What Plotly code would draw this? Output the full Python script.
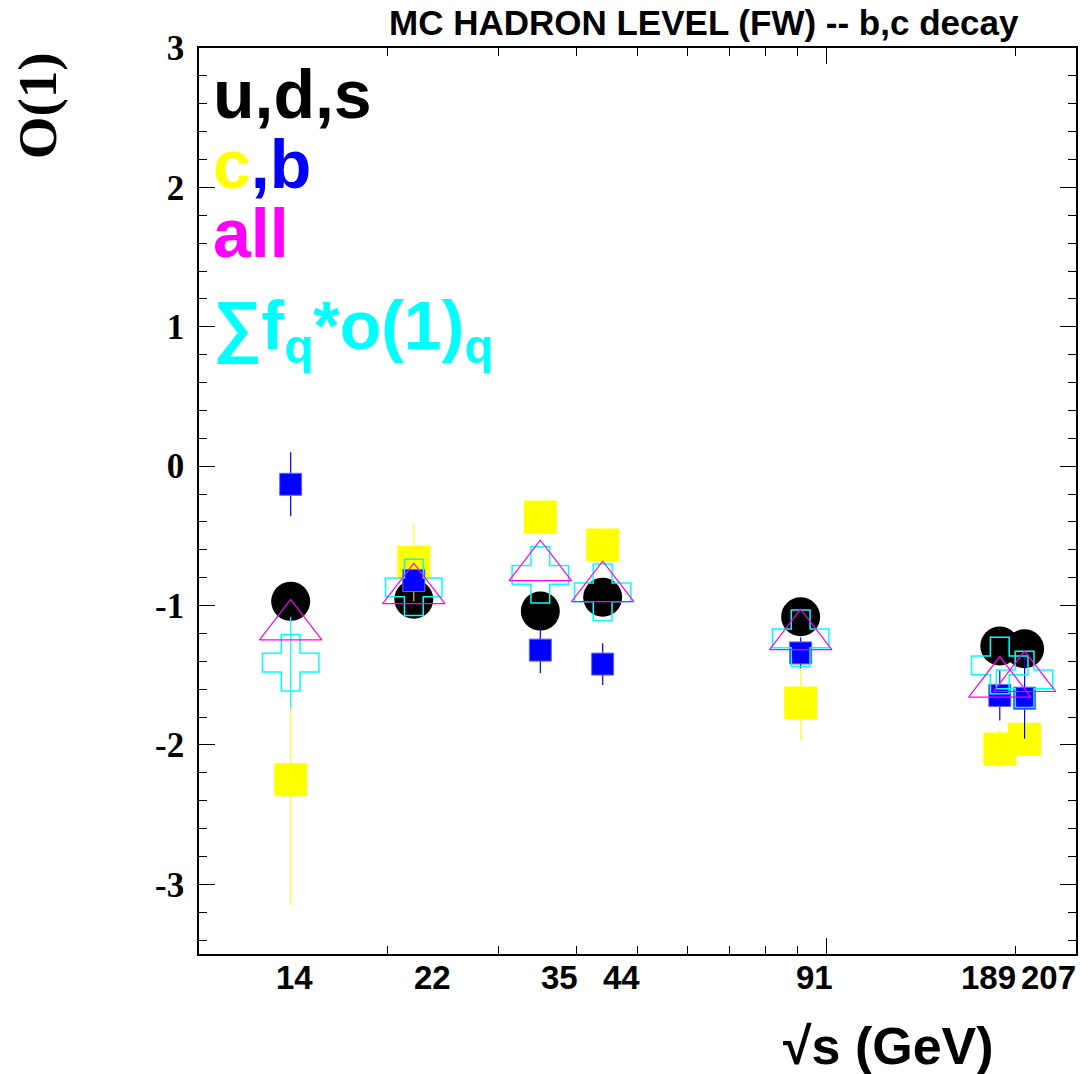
import numpy as np
import plotly.graph_objects as go

# ---------------- data ----------------
sqrt_s = [14, 22, 35, 44, 91, 189, 207]
tick_labels = ["14", "22", "35", "44", "91", "189", "207"]
tick_label_pos = [14.2, 23.6, 37.5, 47.1, 95.8, 181.0, 225.6]

o1_uds = [-0.97, -0.955, -1.04, -0.94, -1.08, -1.29, -1.31]
o1_c = [-2.25, -0.69, -0.365, -0.565, -1.70, -2.03, -1.96]
o1_c_err = [0.90, 0.28, 0.10, 0.10, 0.27, 0.14, 0.10]
o1_b = [-0.13, -0.82, -1.32, -1.42, -1.34, -1.645, -1.665]
o1_b_err = [0.23, 0.08, 0.165, 0.15, 0.11, 0.18, 0.29]
o1_all = [-1.15, -0.89, -0.725, -0.875, -1.22, -1.56, -1.52]
o1_sum = [-1.41, -0.87, -0.78, -0.905, -1.235, -1.43, -1.53]
o1_sum_err = [0.33, 0.0, 0.0, 0.0, 0.0, 0.0, 0.0]

y_ticks = [-3, -2, -1, 0, 1, 2, 3]

# ---------------- layout geometry ----------------
W, H = 1089, 1074
L, R, T, B = 199, 11, 48, 120
PW, PH = W - L - R, H - T - B


def px_x(px):
    return (px - L) / PW


def px_y(py):
    return (H - B - py) / PH


SANS = "Liberation Sans, Arial, Helvetica, sans-serif"
SERIF = "Liberation Serif, Times New Roman, serif"

YELLOW = "#ffff00"
BLUE = "#0000ff"
MAGENTA = "#ff00ff"
CYAN = "#00ffff"

fig = go.Figure()

fig.add_trace(go.Scatter(
    x=sqrt_s, y=o1_uds, mode="markers", name="u,d,s",
    marker=dict(symbol="circle", size=39, color="black", line=dict(width=0)),
))
fig.add_trace(go.Scatter(
    x=sqrt_s, y=o1_c, mode="markers", name="c",
    marker=dict(symbol="square", size=33, color=YELLOW, line=dict(width=0)),
    error_y=dict(type="data", array=o1_c_err, color=YELLOW, thickness=1, width=0),
))
fig.add_trace(go.Scatter(
    x=sqrt_s, y=o1_b, mode="markers", name="b",
    marker=dict(symbol="square", size=22, color=BLUE, line=dict(width=1, color="#6666ff")),
    error_y=dict(type="data", array=o1_b_err, color=BLUE, thickness=1.2, width=0),
))
fig.add_trace(go.Scatter(
    x=sqrt_s, y=o1_sum, mode="markers", name="sum",
    marker=dict(symbol="cross-open", size=47, color=CYAN, line=dict(width=1.5, color=CYAN)),
    error_y=dict(type="data", array=o1_sum_err, color=CYAN, thickness=1.2, width=0),
))
fig.add_trace(go.Scatter(
    x=sqrt_s, y=o1_all, mode="markers", name="all",
    marker=dict(symbol="triangle-up-open", size=54, color=MAGENTA, line=dict(width=1.2, color=MAGENTA)),
))

annotations = []
# x tick labels
for lab, pos in zip(tick_labels, tick_label_pos):
    annotations.append(dict(
        x=np.log10(pos), xref="x", y=px_y(977), yref="paper",
        text=lab, showarrow=False, xanchor="center", yanchor="middle",
        font=dict(family=SANS, size=33, color="black", weight="bold"),
    ))

# legend-like texts
leg_font = dict(family=SANS, size=68, weight="bold")
annotations += [
    dict(x=px_x(211), y=px_y(94), xref="paper", yref="paper", xanchor="left", yanchor="middle",
         showarrow=False, text="u,d,s", font=dict(leg_font, color="black")),
    dict(x=px_x(211), y=px_y(164), xref="paper", yref="paper", xanchor="left", yanchor="middle",
         showarrow=False, text=f"<span style='color:{YELLOW}'>c</span><span style='color:{BLUE}'>,b</span>",
         font=dict(leg_font, color=BLUE)),
    dict(x=px_x(211), y=px_y(233), xref="paper", yref="paper", xanchor="left", yanchor="middle",
         showarrow=False, text="all", font=dict(leg_font, color=MAGENTA)),
    dict(x=px_x(211), y=px_y(330), xref="paper", yref="paper", xanchor="left", yanchor="middle",
         showarrow=False, text="∑f<sub>q</sub>*o(1)<sub>q</sub>", font=dict(leg_font, color=CYAN)),
    # title
    dict(x=px_x(705), y=px_y(22), xref="paper", yref="paper", xanchor="center", yanchor="middle",
         showarrow=False, text="MC HADRON LEVEL (FW) -- b,c decay",
         font=dict(family=SANS, size=35, color="black", weight="bold")),
    # y title
    dict(x=px_x(37), y=px_y(106), xref="paper", yref="paper", xanchor="center", yanchor="middle",
         showarrow=False, text="O(1)", textangle=-90,
         font=dict(family=SERIF, size=55, color="black", weight="bold")),
    # x title
    dict(x=px_x(998), y=px_y(1046), xref="paper", yref="paper", xanchor="right", yanchor="middle",
         showarrow=False, text="√s (GeV)",
         font=dict(family=SANS, size=52, color="black", weight="bold")),
]

fig.update_layout(
    width=W, height=H,
    margin=dict(l=L, r=R, t=T, b=B, pad=0),
    paper_bgcolor="white", plot_bgcolor="white",
    showlegend=False,
    annotations=annotations,
    xaxis=dict(
        type="log", range=[1, np.log10(250)],
        showgrid=False, zeroline=False,
        showline=True, linecolor="black", linewidth=1.5, mirror="ticks",
        ticks="inside", tickvals=[10, 100], ticklen=16, tickwidth=1, tickcolor="black",
        showticklabels=False,
        minor=dict(tickvals=[20, 30, 40, 50, 60, 70, 80, 90, 200], ticks="inside",
                   ticklen=8, tickwidth=1, tickcolor="black", showgrid=False),
    ),
    yaxis=dict(
        range=[-3.5, 3],
        showgrid=False, zeroline=False,
        showline=True, linecolor="black", linewidth=1.5, mirror="ticks",
        ticks="inside", tickvals=y_ticks, ticktext=[str(v) for v in y_ticks],
        ticklen=16, tickwidth=1, tickcolor="black",
        ticklabelstandoff=6,
        tickfont=dict(family=SERIF, size=35, color="black", weight="bold"),
        minor=dict(dtick=0.2, tick0=0, ticks="inside", ticklen=8, tickwidth=1,
                   tickcolor="black", showgrid=False),
    ),
)

fig.write_html("out.html")
